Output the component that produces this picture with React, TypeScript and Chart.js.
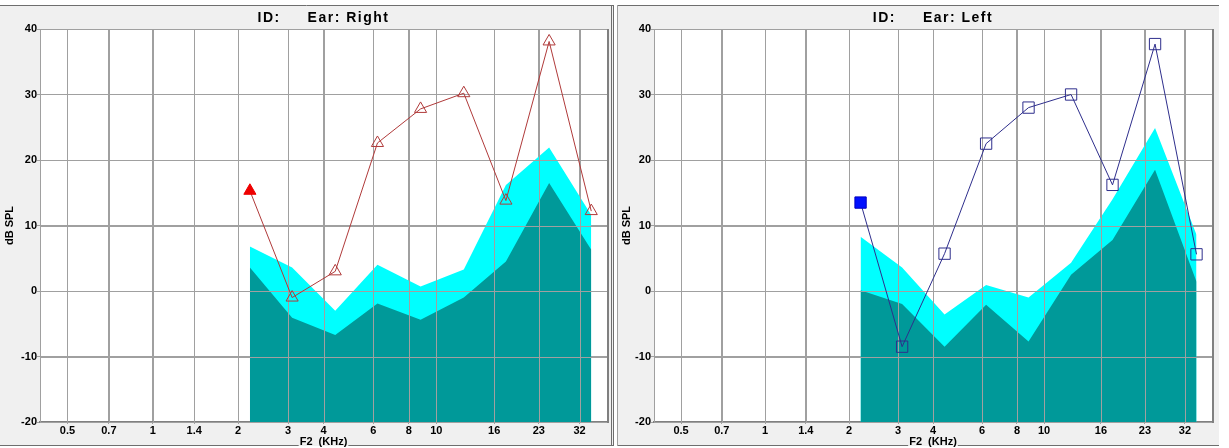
import React, { useEffect, useRef } from 'react';
import { Chart, registerables } from 'chart.js';

Chart.register(...registerables);

// F2 test frequencies (kHz), half-octave steps
const F2_KHZ = [2.2, 3.1, 4.4, 6.2, 8.8, 12.5, 17.6, 25, 35.2];

// Axis ticks
const X_TICKS = [0.5, 0.7, 1, 1.4, 2, 3, 4, 6, 8, 10, 16, 23, 32];
const X_TICK_LABELS = ['0.5', '0.7', '1', '1.4', '2', '3', '4', '6', '8', '10', '16', '23', '32'];
const Y_TICKS = [-20, -10, 0, 10, 20, 30, 40];

// Right ear: DP level, noise floor, noise floor + 2 SD (dB SPL)
const RIGHT_DP = [15.3, -1.0, 3.0, 22.6, 27.8, 30.2, 13.8, 38.1, 12.2];
const RIGHT_NOISE = [3.6, -4.1, -6.7, -1.9, -4.4, -1.0, 4.5, 16.5, 6.3];
const RIGHT_NOISE_2SD = [6.8, 3.6, -3.0, 4.0, 0.7, 3.3, 16.2, 21.9, 11.6];

// Left ear: DP level, noise floor, noise floor + 2 SD (dB SPL)
const LEFT_DP = [13.5, -8.5, 5.7, 22.5, 28.0, 30.0, 16.2, 37.7, 5.6];
const LEFT_NOISE = [0.1, -2.0, -8.5, -2.1, -7.7, 2.5, 7.8, 18.5, 1.4];
const LEFT_NOISE_2SD = [8.3, 3.6, -3.6, 0.9, -1.0, 4.3, 14.0, 24.9, 8.6];

const PANEL_BG = '#f0f0f0';
const GRID = '#a0a0a0';
const AXIS = '#808080';
const FRAME_DARK = '#6e6e6e';
const TEAL = '#009999';
const CYAN = '#00ffff';
const FONT_FAMILY = '"Liberation Sans", Arial, sans-serif';
const TICK_FONT = { family: FONT_FAMILY, size: 11, weight: 'bold' as const };
const HEIGHT = 448;

// Panel background, frame, titles and plot border
const panelFrame = {
  id: 'panelFrame',
  beforeDraw(chart: any, _args: any, opts: any) {
    const { ctx, width, height, chartArea: a } = chart;
    ctx.save();
    ctx.fillStyle = '#ffffff';
    ctx.fillRect(0, 0, width, height);
    ctx.fillStyle = PANEL_BG;
    ctx.fillRect(opts.frameLeft, 6, opts.frameRight - opts.frameLeft, 440);
    ctx.fillStyle = '#ffffff';
    ctx.fillRect(a.left, a.top, a.right - a.left, a.bottom - a.top);
    ctx.restore();
  },
  beforeDatasetDraw(chart: any, args: any) {
    // grid lines sit above the noise bands but below the DP trace
    if (args.index !== 0) return;
    const { ctx, chartArea: a, scales } = chart;
    ctx.save();
    ctx.strokeStyle = GRID;
    ctx.lineWidth = 1;
    ctx.beginPath();
    scales.x.ticks.forEach((t: any) => {
      const px = Math.round(scales.x.getPixelForValue(t.value)) + 0.5;
      ctx.moveTo(px, a.top);
      ctx.lineTo(px, a.bottom);
    });
    scales.y.ticks.forEach((t: any) => {
      const py = Math.round(scales.y.getPixelForValue(t.value)) + 0.5;
      ctx.moveTo(a.left, py);
      ctx.lineTo(a.right, py);
    });
    ctx.stroke();
    ctx.restore();
  },
  afterDraw(chart: any, _args: any, opts: any) {
    const { ctx, chartArea: a } = chart;
    ctx.save();
    // plot right edge
    ctx.fillStyle = AXIS;
    ctx.fillRect(Math.round(a.right), Math.round(a.top), 2, Math.round(a.bottom - a.top) + 1);

    // outer frame
    ctx.strokeStyle = FRAME_DARK;
    ctx.lineWidth = 1;
    ctx.beginPath();
    ctx.moveTo(opts.frameLeft, 5.5);
    ctx.lineTo(opts.frameRight, 5.5);
    ctx.moveTo(opts.frameLeft, 445.5);
    ctx.lineTo(opts.frameRight, 445.5);
    ctx.stroke();
    if (opts.side === 'left') {
      ctx.beginPath();
      ctx.moveTo(opts.frameRight - 1.5, 5);
      ctx.lineTo(opts.frameRight - 1.5, 446);
      ctx.moveTo(opts.frameRight + 0.5, 5);
      ctx.lineTo(opts.frameRight + 0.5, 446);
      ctx.stroke();
    } else {
      ctx.strokeStyle = GRID;
      ctx.beginPath();
      ctx.moveTo(0.5, 5);
      ctx.lineTo(0.5, 446);
      ctx.stroke();
    }

    const cx = (a.left + a.right) / 2;

    // panel title
    ctx.fillStyle = '#000000';
    ctx.font = `bold 14px ${FONT_FAMILY}`;
    (ctx as any).letterSpacing = '1.5px';
    ctx.textAlign = 'center';
    ctx.textBaseline = 'alphabetic';
    ctx.fillText(opts.title, cx, 21.5);

    // x-axis title on the bottom rule
    (ctx as any).letterSpacing = '0px';
    ctx.font = `bold 11px ${FONT_FAMILY}`;
    const w = ctx.measureText(opts.xTitle).width;
    ctx.fillStyle = PANEL_BG;
    ctx.fillRect(cx - w / 2 - 1, 434, w + 2, 12);
    ctx.fillStyle = '#000000';
    ctx.fillText(opts.xTitle, cx, 444.5);
    ctx.restore();
  },
};

type PanelProps = {
  title: string;
  dp: number[];
  noise: number[];
  noise2sd: number[];
  marker: 'triangle' | 'rect';
  markerRadius: number;
  lineColor: string;
  firstFill: string;
  firstBorder: string;
  left: number;
  width: number;
  axisWidth: number;
  rightPad: number;
  side: 'left' | 'right';
  frameLeft: number;
  frameRight: number;
};

function EarPanel(p: PanelProps) {
  const ref = useRef<HTMLCanvasElement>(null);

  useEffect(() => {
    const canvas = ref.current;
    if (!canvas) return;
    const pts = (vals: number[]) => F2_KHZ.map((x, i) => ({ x, y: vals[i] }));

    const chart = new Chart(canvas, {
      type: 'line',
      data: {
        datasets: [
          {
            label: 'DP',
            data: pts(p.dp),
            borderColor: p.lineColor,
            borderWidth: 1,
            tension: 0,
            fill: false,
            pointStyle: p.marker,
            pointRadius: p.markerRadius,
            pointHoverRadius: p.markerRadius,
            pointBorderWidth: 1,
            pointBorderColor: p.dp.map((_, i) => (i === 0 ? p.firstBorder : p.lineColor)),
            pointBackgroundColor: p.dp.map((_, i) => (i === 0 ? p.firstFill : 'rgba(0,0,0,0)')),
          },
          {
            label: 'Noise floor',
            data: pts(p.noise),
            borderWidth: 0,
            borderColor: 'rgba(0,0,0,0)',
            backgroundColor: TEAL,
            pointRadius: 0,
            tension: 0,
            fill: 'start',
          },
          {
            label: 'Noise floor + 2 SD',
            data: pts(p.noise2sd),
            borderWidth: 0,
            borderColor: 'rgba(0,0,0,0)',
            backgroundColor: CYAN,
            pointRadius: 0,
            tension: 0,
            fill: 'start',
          },
        ],
      },
      options: {
        animation: false,
        responsive: false,
        maintainAspectRatio: false,
        layout: { padding: { top: 29, left: 0, right: p.rightPad, bottom: 0 } },
        plugins: {
          legend: { display: false },
          tooltip: { enabled: false },
          panelFrame: {
            title: p.title,
            xTitle: 'F2  (KHz)',
            side: p.side,
            frameLeft: p.frameLeft,
            frameRight: p.frameRight,
          },
        } as any,
        scales: {
          x: {
            type: 'logarithmic',
            min: 0.4,
            max: 40,
            afterBuildTicks: (s: any) => {
              s.ticks = X_TICKS.map((value) => ({ value }));
            },
            afterFit: (s: any) => {
              s.height = 26;
            },
            ticks: {
              autoSkip: false,
              maxRotation: 0,
              minRotation: 0,
              padding: 0,
              color: '#000000',
              font: TICK_FONT,
              callback: (_v: any, i: number) => X_TICK_LABELS[i],
            },
            grid: { color: GRID, tickLength: 2 },
            border: { color: AXIS, width: 2 },
          },
          y: {
            type: 'linear',
            min: -20,
            max: 40,
            afterBuildTicks: (s: any) => {
              s.ticks = Y_TICKS.map((value) => ({ value }));
            },
            afterFit: (s: any) => {
              s.width = p.axisWidth;
            },
            ticks: { padding: 0, color: '#000000', font: TICK_FONT },
            grid: { color: GRID, tickLength: 3 },
            border: { color: GRID, width: 1 },
            title: {
              display: true,
              text: 'dB SPL',
              color: '#000000',
              font: { family: FONT_FAMILY, size: 11, weight: 'bold' },
              padding: { top: 3, bottom: 0 },
            },
          },
        },
      },
      plugins: [panelFrame],
    } as any);

    return () => chart.destroy();
  }, []);

  return (
    <canvas
      ref={ref}
      width={p.width}
      height={HEIGHT}
      style={{ position: 'absolute', left: p.left, top: 0, width: p.width, height: HEIGHT }}
    />
  );
}

export default function App() {
  useEffect(() => {
    document.body.style.margin = '0';
  }, []);

  return (
    <div style={{ position: 'relative', width: 1229, height: HEIGHT, background: '#ffffff', overflow: 'hidden' }}>
      <EarPanel
        title="ID:     Ear: Right"
        dp={RIGHT_DP}
        noise={RIGHT_NOISE}
        noise2sd={RIGHT_NOISE_2SD}
        marker="triangle"
        markerRadius={7}
        lineColor="#b03a3a"
        firstFill="#ee0000"
        firstBorder="#ee0000"
        left={0}
        width={615}
        axisWidth={40}
        rightPad={8}
        side="left"
        frameLeft={0}
        frameRight={613}
      />
      <EarPanel
        title="ID:     Ear: Left"
        dp={LEFT_DP}
        noise={LEFT_NOISE}
        noise2sd={LEFT_NOISE_2SD}
        marker="rect"
        markerRadius={8}
        lineColor="#2e2e8c"
        firstFill="#0010ff"
        firstBorder="#0000c0"
        left={617}
        width={604}
        axisWidth={37}
        rightPad={3}
        side="right"
        frameLeft={0}
        frameRight={602}
      />
    </div>
  );
}
